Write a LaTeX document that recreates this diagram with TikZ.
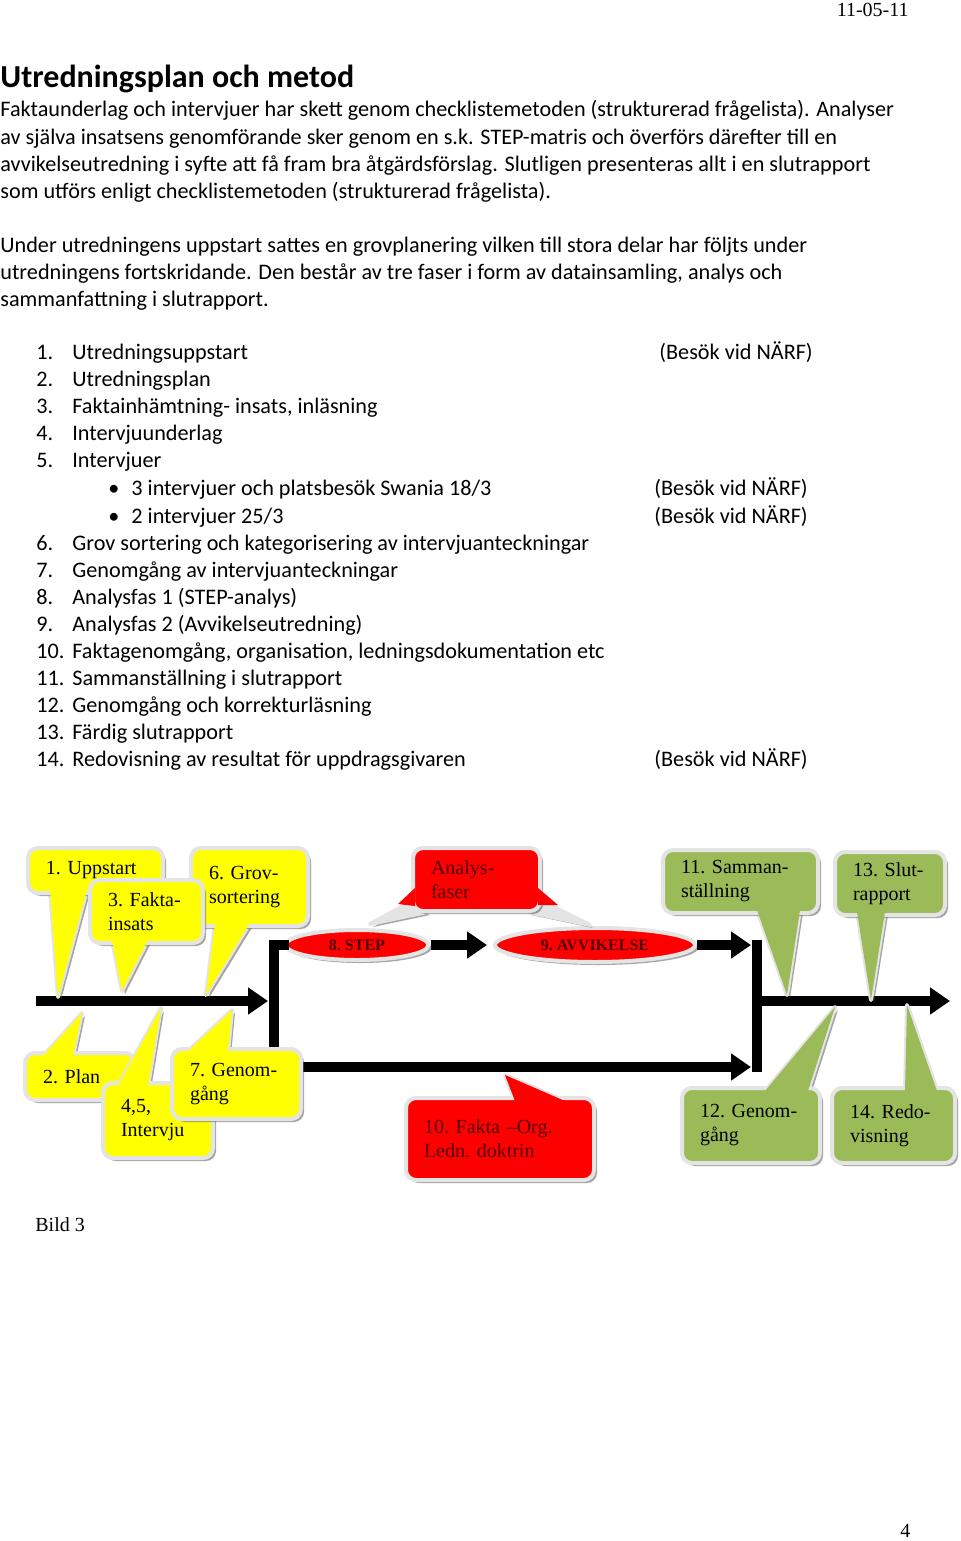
\documentclass[tikz,border=0pt]{standalone}
\usepackage{fontspec}
\setmainfont{Carlito}
\newfontfamily\timesfont[Ligatures=TeX]{Liberation Serif}
\usetikzlibrary{arrows.meta,shadows,shapes.geometric}

\definecolor{callyellow}{RGB}{255,255,0}
\definecolor{callred}{RGB}{255,0,0}
\definecolor{callgreen}{RGB}{155,187,89}
\definecolor{labelred}{RGB}{80,0,0}
\definecolor{glow}{RGB}{228,228,228}

\tikzset{
  body/.style={anchor=base west, inner sep=0pt, font=\fontsize{11.1}{13.5}\selectfont},
  serif/.style={anchor=base west, inner sep=0pt, font=\timesfont\fontsize{10}{12}\selectfont},
  flow/.style={line width=5pt, line cap=rect},
  flowarrow/.style={line width=5pt, shorten >=3pt, -{Triangle[length=10pt,width=13pt]}},
  boxshadow/.style={drop shadow={shadow xshift=1.5pt, shadow yshift=-1.5pt, fill=black!70}},
  tail/.style={draw=glow, line width=2pt, line join=round, boxshadow},
  callbox/.style={draw=glow, line width=2pt, rounded corners=5pt, align=left, text opacity=1,
    inner xsep=9pt, inner ysep=0pt, font=\timesfont\fontsize{10}{12}\selectfont\frenchspacing, boxshadow},
  phase/.style={ellipse, fill=callred, draw=glow, line width=2pt, inner sep=0pt, text opacity=1,
    text=labelred, font=\timesfont\bfseries\fontsize{8}{9.6}\selectfont\frenchspacing, boxshadow}
}

\begin{document}
\begin{tikzpicture}[x=0.5pt, y=-0.5pt]
  \useasboundingbox (0,0) rectangle (960,1541);
  \fill[white] (0,0) rectangle (960,1541);

  % Header and title
  \node[serif, anchor=base east] (date) at (909,17) {11-05-11};
  \node[body, font=\bfseries\fontsize{16}{19}\selectfont] (title) at (0,88) {Utredningsplan och metod};

  % First paragraph
  \node[body] (introA) at (0,117) {Faktaunderlag och intervjuer har skett genom checklistemetoden (strukturerad frågelista). Analyser};
  \node[body] (introB) at (0,144) {av själva insatsens genomförande sker genom en s.k. STEP-matris och överförs därefter till en};
  \node[body] (introC) at (0,171) {avvikelseutredning i syfte att få fram bra åtgärdsförslag. Slutligen presenteras allt i en slutrapport};
  \node[body] (introD) at (0,198) {som utförs enligt checklistemetoden (strukturerad frågelista).};

  % Second paragraph
  \node[body] (planA) at (0,252) {Under utredningens uppstart sattes en grovplanering vilken till stora delar har följts under};
  \node[body] (planB) at (0,279) {utredningens fortskridande. Den består av tre faser i form av datainsamling, analys och};
  \node[body] (planC) at (0,306) {sammanfattning i slutrapport.};

  % Numbered list
  \node[body] (item1) at (36,359) {\makebox[18pt][l]{1.}Utredningsuppstart};
  \node[body] (item2) at (36,386) {\makebox[18pt][l]{2.}Utredningsplan};
  \node[body] (item3) at (36,413) {\makebox[18pt][l]{3.}Faktainhämtning- insats, inläsning};
  \node[body] (item4) at (36,440) {\makebox[18pt][l]{4.}Intervjuunderlag};
  \node[body] (item5) at (36,467) {\makebox[18pt][l]{5.}Intervjuer};
  \node[body] (item5a) at (108,495) {\makebox[11.5pt][l]{\textbullet}3 intervjuer och platsbesök Swania 18/3};
  \node[body] (item5b) at (108,523) {\makebox[11.5pt][l]{\textbullet}2 intervjuer 25/3};
  \node[body] (item6) at (36,550) {\makebox[18pt][l]{6.}Grov sortering och kategorisering av intervjuanteckningar};
  \node[body] (item7) at (36,577) {\makebox[18pt][l]{7.}Genomgång av intervjuanteckningar};
  \node[body] (item8) at (36,604) {\makebox[18pt][l]{8.}Analysfas 1 (STEP-analys)};
  \node[body] (item9) at (36,631) {\makebox[18pt][l]{9.}Analysfas 2 (Avvikelseutredning)};
  \node[body] (item10) at (36,658) {\makebox[18pt][l]{10.}Faktagenomgång, organisation, ledningsdokumentation etc};
  \node[body] (item11) at (36,685) {\makebox[18pt][l]{11.}Sammanställning i slutrapport};
  \node[body] (item12) at (36,712) {\makebox[18pt][l]{12.}Genomgång och korrekturläsning};
  \node[body] (item13) at (36,739) {\makebox[18pt][l]{13.}Färdig slutrapport};
  \node[body] (item14) at (36,766) {\makebox[18pt][l]{14.}Redovisning av resultat för uppdragsgivaren};

  % Visits
  \node[body] (visit1) at (659,359) {(Besök vid NÄRF)};
  \node[body] (visit2) at (654,495) {(Besök vid NÄRF)};
  \node[body] (visit3) at (654,523) {(Besök vid NÄRF)};
  \node[body] (visit4) at (654,766) {(Besök vid NÄRF)};

  % Flow lines
  \coordinate (start) at (36,1001);
  \coordinate (splitM) at (274,1001);
  \coordinate (splitT) at (274,945);
  \coordinate (splitB) at (274,1067);
  \coordinate (joinT) at (757,945);
  \coordinate (joinM) at (757,1001);
  \coordinate (joinB) at (757,1067);
  \coordinate (finish) at (956,1001);

  \node[phase, minimum width=71.5pt, minimum height=15pt] (step) at (357,945) {8. STEP};
  \node[phase, minimum width=100pt, minimum height=17pt] (avvik) at (595,945) {9. AVVIKELSE};

  \draw[flowarrow] (start) -- (splitM);
  \draw[flow] (splitT) -- (splitB);
  \draw[flow] (splitT) -- (step.west);
  \draw[flowarrow] (step.east) -- (avvik.west);
  \draw[flowarrow] (avvik.east) -- (joinT);
  \draw[flowarrow] (splitB) -- (joinB);
  \draw[flow] (joinT) -- (joinB);
  \draw[flowarrow] (joinM) -- (finish);

  % Analysfaser callout
  \filldraw[tail, fill=glow] (370,924) -- (405,905) -- (427,912) -- cycle;
  \filldraw[tail, fill=glow] (590,925) -- (528,912) -- (550,905) -- cycle;
  \node[callbox, fill=callred, text=labelred, text width=45.5pt, minimum height=31.5pt] (analys) at (476.5,879.5) {Analys-\\faser};
  \fill[callred] (398,904) -- (415,888) -- (415,906) -- cycle;
  \fill[callred] (538,888) -- (538,905) -- (558,905) -- cycle;

  % Upper yellow callouts
  \filldraw[tail, fill=callyellow] (58,997) -- (50,890) -- (87,890) -- cycle;
  \node[callbox, fill=callyellow, text width=49.5pt, minimum height=22.5pt] (uppstart) at (95.5,870.5) {1. Uppstart};
  \fill[callyellow] (58,997) -- (50,890) -- (87,890) -- cycle;

  \filldraw[tail, fill=callyellow] (206,995) -- (215,923) -- (250,923) -- cycle;
  \node[callbox, fill=callyellow, text width=40.5pt, minimum height=39pt] (grov) at (249.5,887) {6. Grov-\\sortering};
  \fill[callyellow] (206,995) -- (215,923) -- (250,923) -- cycle;

  \filldraw[tail, fill=callyellow] (122,991) -- (112,940) -- (148,940) -- cycle;
  \node[callbox, fill=callyellow, text width=38.5pt, minimum height=31.5pt] (fakta) at (146.5,911.5) {3. Fakta-\\insats};
  \fill[callyellow] (122,991) -- (112,940) -- (148,940) -- cycle;

  % Lower yellow callouts
  \filldraw[tail, fill=callyellow] (82,1013) -- (43,1056) -- (73,1056) -- cycle;
  \node[callbox, fill=callyellow, text width=37pt, minimum height=23.5pt] (plan) at (80,1076.5) {2. Plan};
  \fill[callyellow] (82,1013) -- (43,1056) -- (73,1056) -- cycle;

  \filldraw[tail, fill=callyellow] (161,1008) -- (118,1086) -- (148,1086) -- cycle;
  \node[callbox, fill=callyellow, text width=37pt, minimum height=37.5pt] (intervju) at (158,1120.5) {4,5,\\Intervju};
  \fill[callyellow] (161,1008) -- (118,1086) -- (148,1086) -- cycle;

  \filldraw[tail, fill=callyellow] (232,1010) -- (187,1052) -- (228,1052) -- cycle;
  \node[callbox, fill=callyellow, text width=46.5pt, minimum height=35pt] (genomA) at (236.5,1084) {7. Genom-\\gång};
  \fill[callyellow] (232,1010) -- (187,1052) -- (228,1052) -- cycle;

  % Red callout below
  \filldraw[tail, fill=callred] (505,1075) -- (515,1101) -- (565,1101) -- cycle;
  \node[callbox, fill=callred, text=labelred, text width=76pt, minimum height=41pt] (doktrin) at (500,1139) {10. Fakta –Org.\\Ledn. doktrin};
  \fill[callred] (505,1075) -- (515,1101) -- (565,1101) -- cycle;

  % Green callouts
  \filldraw[tail, fill=callgreen] (787,995) -- (757,910) -- (800,910) -- cycle;
  \node[callbox, fill=callgreen, text width=59.5pt, minimum height=31.5pt] (samman) at (740.5,881.5) {11. Samman-\\ställning};
  \fill[callgreen] (787,995) -- (757,910) -- (800,910) -- cycle;

  \filldraw[tail, fill=callgreen] (871,1000) -- (857,912) -- (885,912) -- cycle;
  \node[callbox, fill=callgreen, text width=37pt, minimum height=31.5pt] (slut) at (890,883.5) {13. Slut-\\rapport};
  \fill[callgreen] (871,1000) -- (857,912) -- (885,912) -- cycle;

  \filldraw[tail, fill=callgreen] (835,1007) -- (765,1091) -- (808,1091) -- cycle;
  \node[callbox, fill=callgreen, text width=51pt, minimum height=37.5pt] (genomB) at (751,1125.5) {12. Genom-\\gång};
  \fill[callgreen] (835,1007) -- (765,1091) -- (808,1091) -- cycle;

  \filldraw[tail, fill=callgreen] (907,1005) -- (905,1091) -- (937,1091) -- cycle;
  \node[callbox, fill=callgreen, text width=43.5pt, minimum height=37.5pt] (redo) at (893.5,1125.5) {14. Redo-\\visning};
  \fill[callgreen] (907,1005) -- (905,1091) -- (937,1091) -- cycle;

  % Caption and page number
  \node[serif] (caption) at (35,1231) {Bild 3};
  \node[serif] (page) at (900,1537) {4};
\end{tikzpicture}
\end{document}
